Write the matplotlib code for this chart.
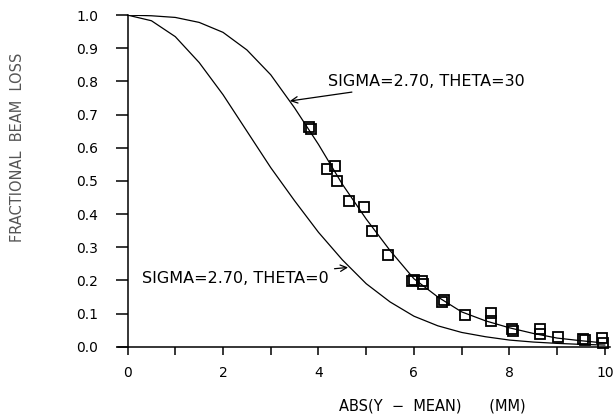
import matplotlib.pyplot as plt
import numpy as np

# curves
curve_x = [0, 0.5, 1.0, 1.5, 2.0, 2.5, 3.0, 3.5, 4.0, 4.5, 5.0,
           5.5, 6.0, 6.5, 7.0, 7.5, 8.0, 8.5, 9.0, 9.5, 10.0]
theta30 = [1.0, 0.998, 0.993, 0.978, 0.948, 0.895, 0.82, 0.72, 0.61, 0.49, 0.385,
           0.29, 0.205, 0.15, 0.105, 0.078, 0.057, 0.04, 0.026, 0.018, 0.011]
theta0 = [1.0, 0.983, 0.935, 0.857, 0.76, 0.65, 0.54, 0.44, 0.345, 0.262, 0.19,
          0.135, 0.092, 0.063, 0.043, 0.030, 0.020, 0.014, 0.010, 0.007, 0.005]

# measured points (squares)
meas_x = [3.80, 3.84, 4.18, 4.35, 4.38, 4.64, 4.96, 5.12, 5.45, 5.97, 6.00,
          6.16, 6.18, 6.58, 6.63, 7.07, 7.61, 7.61, 8.05, 8.08, 8.65, 8.65,
          9.01, 9.54, 9.58, 9.95, 9.97]
meas_y = [0.663, 0.658, 0.537, 0.546, 0.50, 0.438, 0.421, 0.35, 0.277, 0.199, 0.201,
          0.199, 0.189, 0.136, 0.140, 0.096, 0.103, 0.077, 0.052, 0.046, 0.052, 0.037,
          0.030, 0.022, 0.020, 0.025, 0.012]

xticks = np.arange(0, 11, 1)
xticklabels = ['0', '', '2', '', '4', '', '6', '', '8', '', '10']
yticks = np.round(np.arange(0, 1.01, 0.1), 1)

fig = plt.figure(figsize=(6.16, 4.15), dpi=100)
ax = fig.add_axes([0.1916, 0.1646, 0.798, 0.799])

ax.plot(curve_x, theta30, color='black', lw=0.9)
ax.plot(curve_x, theta0, color='black', lw=0.9)
ax.plot(meas_x, meas_y, linestyle='none', marker='s', markersize=7.5,
        markerfacecolor='none', markeredgecolor='black', markeredgewidth=1.3,
        clip_on=False)

ax.set_xlim(-0.2, 10.1)
ax.set_ylim(0, 1.0)
ax.spines['top'].set_visible(False)
ax.spines['right'].set_visible(False)
ax.spines['left'].set_position(('data', 0))
ax.spines['left'].set_linewidth(1.1)
ax.spines['bottom'].set_linewidth(1.1)

ax.set_xticks(xticks)
ax.set_xticklabels(xticklabels)
ax.set_yticks(yticks)
ax.set_yticklabels([f'{v:.1f}' for v in yticks])
ax.tick_params(axis='y', direction='out', length=9, width=1.1, pad=12, labelsize=10)
ax.tick_params(axis='x', direction='out', length=6, width=1.1, pad=8, labelsize=10)

ax.annotate('SIGMA=2.70, THETA=30', xy=(3.40, 0.741), xytext=(4.20, 0.800),
            ha='left', va='center', fontsize=11.5,
            arrowprops=dict(arrowstyle='->', color='black', lw=0.9,
                            shrinkA=2, shrinkB=0))
ax.annotate('SIGMA=2.70, THETA=0', xy=(4.62, 0.239), xytext=(4.22, 0.207),
            ha='right', va='center', fontsize=11.5,
            arrowprops=dict(arrowstyle='->', color='black', lw=0.9,
                            shrinkA=2, shrinkB=0))

fig.text(18 / 616, 1 - 147 / 415, 'FRACTIONAL  BEAM  LOSS', rotation=90,
         ha='center', va='center', fontsize=10.5, color='#555555')
fig.text(432 / 616, 1 - 406 / 415, 'ABS(Y  \u2212  MEAN)      (MM)',
         ha='center', va='center', fontsize=10.5)

fig.savefig('out.png', dpi=100)
